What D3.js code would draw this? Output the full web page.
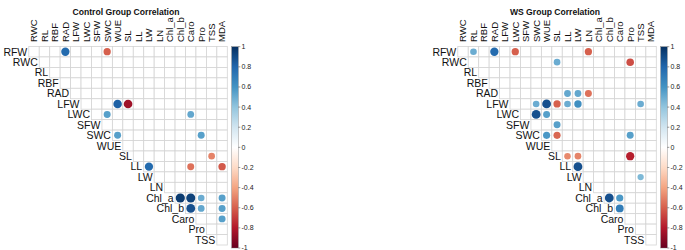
<!DOCTYPE html>
<html>
<head>
<meta charset="utf-8">
<script src="https://cdn.jsdelivr.net/npm/d3@7"></script>
<style>
  body { margin: 0; background: #fff; }
  svg { display: block; font-family: "Liberation Sans", Arial, Helvetica, sans-serif; }
</style>
</head>
<body>
<div id="chart"></div>
<script>
var vars = ["RFW", "RWC", "RL", "RBF", "RAD", "LFW", "LWC", "SFW", "SWC", "WUE",
            "SL", "LL", "LW", "LN", "Chl_a", "Chl_b", "Caro", "Pro", "TSS", "MDA"];

// only the circles that are shown (significant ones), [row, column, r]
var controlPairs = [
    ["RFW", "RAD", 0.78], ["RFW", "SWC", -0.6],
    ["LFW", "WUE", 0.82], ["LFW", "SL", -0.85],
    ["LWC", "SWC", 0.55], ["LWC", "Caro", 0.52],
    ["SWC", "WUE", 0.55], ["SWC", "Pro", 0.55],
    ["SL", "TSS", -0.5],
    ["LL", "LW", 0.78], ["LL", "Caro", -0.55], ["LL", "MDA", -0.62],
    ["Chl_a", "Chl_b", 0.96], ["Chl_a", "Caro", 0.93], ["Chl_a", "Pro", 0.5], ["Chl_a", "MDA", 0.55],
    ["Chl_b", "Caro", 0.88], ["Chl_b", "Pro", 0.52], ["Chl_b", "MDA", 0.55],
    ["Caro", "MDA", 0.55]
];
var wsPairs = [
    ["RFW", "RL", 0.5], ["RFW", "RAD", 0.78], ["RFW", "LWC", -0.6], ["RFW", "LN", -0.6],
    ["RWC", "SL", 0.5], ["RWC", "Pro", -0.65],
    ["RAD", "LL", 0.52], ["RAD", "LW", 0.52], ["RAD", "LN", -0.55],
    ["LFW", "SWC", 0.5], ["LFW", "WUE", 0.88], ["LFW", "SL", -0.6], ["LFW", "LL", 0.5],
    ["LFW", "LW", 0.62], ["LFW", "TSS", 0.5],
    ["LWC", "SWC", 0.88], ["LWC", "WUE", 0.55],
    ["SFW", "SL", 0.55],
    ["SWC", "WUE", 0.58], ["SWC", "SL", -0.58], ["SWC", "Pro", 0.55],
    ["SL", "LL", -0.48], ["SL", "LW", -0.5], ["SL", "Pro", -0.78],
    ["LL", "LW", 0.88],
    ["LW", "TSS", 0.45],
    ["Chl_a", "Chl_b", 0.88], ["Chl_a", "Caro", 0.58],
    ["Chl_b", "Caro", 0.7]
];
var legendTicks = [1, 0.8, 0.6, 0.4, 0.2, 0, -0.2, -0.4, -0.6, -0.8, -1];
var paletteColors = ["#67001F", "#B2182B", "#D6604D", "#F4A582", "#FDDBC7", "#FFFFFF",
                     "#D1E5F0", "#92C5DE", "#4393C3", "#2166AC", "#053061"];

var width = 685, height = 250;
var svg = d3.select("#chart").append("svg").attr("width", width).attr("height", height);

var color = d3.scaleLinear()
    .domain(d3.range(paletteColors.length).map(function(i) { return -1 + 2 * i / (paletteColors.length - 1); }))
    .range(paletteColors)
    .interpolate(d3.interpolateRgb);

// gradient for colour bar
var grad = svg.append("defs").append("linearGradient")
    .attr("id", "cbar").attr("x1", 0).attr("y1", 1).attr("x2", 0).attr("y2", 0);
paletteColors.forEach(function(c, i) {
    grad.append("stop").attr("offset", i / (paletteColors.length - 1)).attr("stop-color", c);
});

function DrawCorrPlot(left, title, pairs) {
    var g = svg.append("g").attr("transform", "translate(" + left + ",0)");
    var colVars = vars.slice(1), rowVars = vars.slice(0, vars.length - 1);
    var x = d3.scaleBand().domain(colVars).range([28.8, 227.3]);
    var y = d3.scaleBand().domain(rowVars).range([46.5, 245]);
    var cell = x.bandwidth();

    g.append("text").attr("x", 126).attr("y", 14.5)
        .attr("text-anchor", "middle").style("font-weight", "bold").style("font-size", "8.6px")
        .style("fill", "#111").text(title);

    // grid of upper triangle
    rowVars.forEach(function(rv, i) {
        colVars.slice(i).forEach(function(cv) {
            g.append("rect").attr("x", x(cv)).attr("y", y(rv))
                .attr("width", cell).attr("height", y.bandwidth())
                .style("fill", "#fff").style("stroke", "#d4d4d4").style("stroke-width", 0.8);
        });
    });

    // circles
    g.selectAll("circle.corr").data(pairs).enter().append("circle")
        .attr("class", "corr")
        .attr("cx", function(d) { return x(d[1]) + cell / 2; })
        .attr("cy", function(d) { return y(d[0]) + y.bandwidth() / 2; })
        .attr("r", function(d) { return 0.45 * Math.sqrt(Math.abs(d[2])) * cell; })
        .style("fill", function(d) { return color(d[2]); });

    // row labels
    rowVars.forEach(function(rv, i) {
        g.append("text").attr("x", x(colVars[i]) - 1.5).attr("y", y(rv) + y.bandwidth() / 2)
            .attr("dy", "0.36em").attr("text-anchor", "end")
            .style("font-size", "10.5px").style("fill", "#111").text(rv);
    });
    // column labels
    colVars.forEach(function(cv) {
        var cx = x(cv) + cell / 2;
        g.append("text").attr("transform", "translate(" + cx + ",42) rotate(-90)")
            .attr("dy", "0.36em").attr("text-anchor", "start")
            .style("font-size", "9.5px").style("fill", "#111").text(cv);
    });

    // colour legend
    var ly = d3.scaleLinear().domain([-1, 1]).range([248, 46.7]);
    var bx = 231.7, bw = 6.6;
    g.append("rect").attr("x", bx).attr("y", ly(1)).attr("width", bw).attr("height", ly(-1) - ly(1))
        .style("fill", "url(#cbar)").style("stroke", "#777").style("stroke-width", 0.4);
    var t = g.selectAll("g.tick").data(legendTicks).enter().append("g")
        .attr("transform", function(d) { return "translate(" + (bx + bw) + "," + ly(d) + ")"; });
    t.append("line").attr("x1", 0).attr("x2", 2).style("stroke", "#555").style("stroke-width", 0.6);
    t.append("text").attr("x", 3.2).attr("dy", "0.35em").style("font-size", "7px").style("fill", "#222")
        .text(function(d) { return String(+d.toFixed(1)); });
}

DrawCorrPlot(0, "Control Group Correlation", controlPairs);
DrawCorrPlot(429, "WS Group Correlation", wsPairs);
</script>
</body>
</html>
